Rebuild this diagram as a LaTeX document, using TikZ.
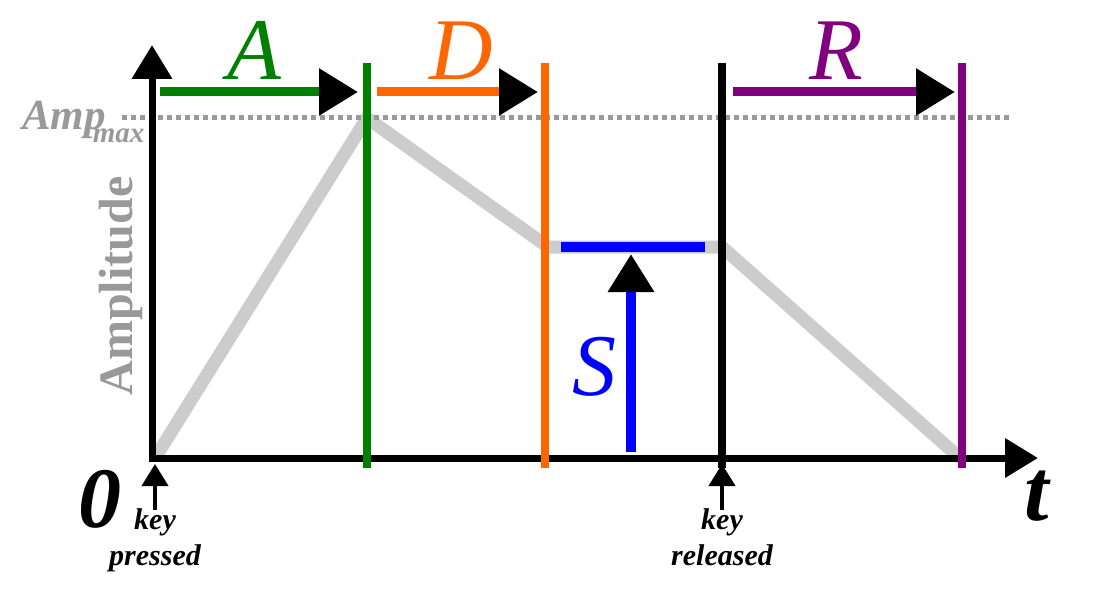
\documentclass[tikz,border=0pt]{standalone}
\usepackage{fontspec}
\setmainfont{Liberation Serif}
\usetikzlibrary{arrows.meta}
\definecolor{attackgreen}{HTML}{008000}
\definecolor{decayorange}{HTML}{FF6600}
\definecolor{releasepurple}{HTML}{800080}
\definecolor{sustainblue}{HTML}{0000FF}
\definecolor{envgray}{HTML}{CCCCCC}
\definecolor{labelgray}{HTML}{999999}
\tikzset{
	bigletter/.style={anchor=base, inner sep=0, font=\fontsize{88}{88}\selectfont\itshape},
	keylabel/.style={anchor=base, inner sep=0, font=\fontsize{30}{30}\selectfont\bfseries\itshape},
	phasetip/.style={-{Triangle[length=39pt,width=45pt,color=black]}},
	smalltip/.style={-{Triangle[length=22pt,width=26pt]}}
}

\begin{document}
\begin{tikzpicture}[x=1pt,y=-1pt]
		%%%%% START %%%%%
		\useasboundingbox (0,0) rectangle (1102,596);
		
		\coordinate (origin) at (152,458);
		\coordinate (peak) at (367,118);
		\coordinate (sustainL) at (548,247);
		\coordinate (sustainR) at (722,247);
		\coordinate (silent) at (960,458);
		
		\draw[line width=13, color=envgray] (155,458) -- (peak) -- (sustainL) -- (sustainR) -- (silent);
		\draw[line width=5, color=labelgray, dash pattern=on 5pt off 4pt] (122,118) -- (1010,118);
		
		\draw[line width=7, -{Triangle[length=34pt,width=39pt]}] (152,461.5) -- (152,45);
		\draw[line width=7, -{Triangle[length=33pt,width=38pt]}] (148.5,458) -- (1038,458);
		
		\draw[line width=8, color=attackgreen] (367,63) -- (367,468);
		\draw[line width=8, color=decayorange] (545,63) -- (545,468);
		\draw[line width=8, color=black] (722,63) -- (722,468);
		\draw[line width=8, color=releasepurple] (962,63) -- (962,468);
		
		\draw[line width=9, color=attackgreen, phasetip] (160,92) -- (358,92);
		\draw[line width=9, color=decayorange, phasetip] (377,92) -- (538,92);
		\draw[line width=9, color=releasepurple, phasetip] (733,92) -- (955,92);
		
		\draw[line width=10, color=sustainblue] (561,247) -- (705,247);
		\draw[line width=10, color=sustainblue, {-{Triangle[length=38pt,width=44pt,color=black]}}] (631,452) -- (631,254);
		
		\node[bigletter, color=attackgreen] (attack) at (254,80) {A};
		\node[bigletter, color=decayorange] (decay) at (461,80) {D};
		\node[bigletter, color=releasepurple] (release) at (836,80) {R};
		\node[bigletter, color=sustainblue] (sustain) at (594,395) {S};
		
		\node[anchor=base west, inner sep=0, color=labelgray, font=\fontsize{43}{43}\selectfont\bfseries\itshape] (ampmax) at (22,130) {Amp\kern-13pt\raisebox{-13pt}{\fontsize{29}{29}\selectfont max}};
		\node[anchor=base, inner sep=0, rotate=90, color=labelgray, font=\fontsize{48}{48}\selectfont\bfseries] (amplitude) at (132,286) {Amplitude};
		
		\node[anchor=base, inner sep=0, font=\fontsize{86}{86}\selectfont\bfseries\itshape] (zero) at (100,527) {0};
		\node[anchor=base, inner sep=0, font=\fontsize{88}{88}\selectfont\bfseries\itshape] (time) at (1037,520) {t};
		
		\node[keylabel] (pressA) at (155,529) {key};
		\node[keylabel] (pressB) at (155,565) {pressed};
		\node[keylabel] (releaseA) at (722,529) {key};
		\node[keylabel] (releaseB) at (722,565) {released};
		\draw[line width=4, smalltip] (155,510) -- (155,464);
		\draw[line width=4, smalltip] (722,510) -- (722,464);
		
		%%%%% END %%%%%
	\end{tikzpicture}
\end{document}
